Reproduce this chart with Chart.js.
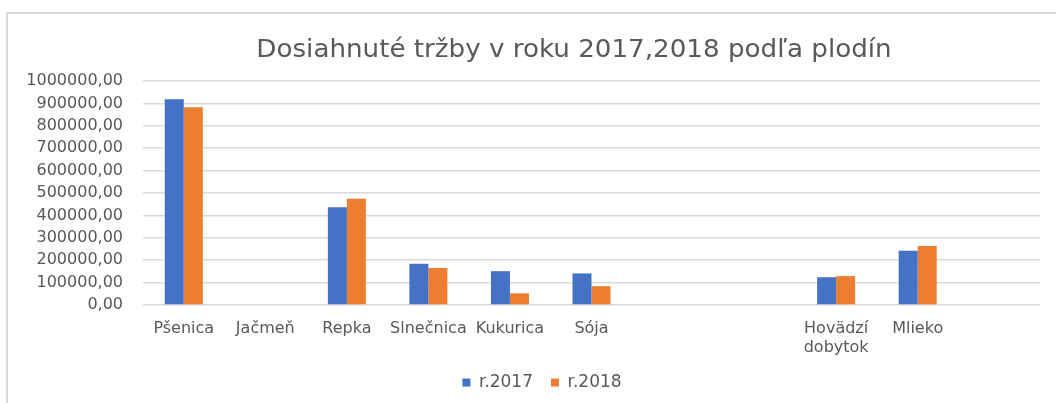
<!DOCTYPE html>
<html>
<head>
<meta charset="utf-8">
<script src="https://cdn.jsdelivr.net/npm/chart.js@4.4.0/dist/chart.umd.min.js"></script>
<style>
  html, body { margin: 0; padding: 0; background: #ffffff; }
  #wrap { position: relative; width: 1056px; height: 403px; }
</style>
</head>
<body>
<div id="wrap"><canvas id="trzbyChart" width="1056" height="403"></canvas></div>
<script>
(function () {
    "use strict";

    /*----------------------------------------*/
    /*  data
    /*----------------------------------------*/
    const plodiny = ["Pšenica", "Jačmeň", "Repka", "Slnečnica", "Kukurica", "Sója", "", "", ["Hovädzí", "dobytok"], "Mlieko", ""];
    const trzby2017 = [918000, 0, 436000, 184000, 151000, 141000, null, null, 124000, 242000, null];
    const trzby2018 = [883000, 0, 474000, 165000, 52000, 84000, null, null, 129000, 263000, null];
    const rokyLabels = ["r.2017", "r.2018"];
    const nadpis = "Dosiahnuté tržby v roku 2017,2018 podľa plodín";

    const textColor = '#595959';
    const fontName = "'DejaVu Sans', sans-serif";

    // frame + title drawn on the canvas, legend nudged right
    const ramPlugin = {
        id: 'ram',
        afterLayout(chart) {
            chart.legend.left += 9;
            chart.legend.right += 9;
        },
        beforeDraw(chart) {
            const ctx = chart.ctx;
            ctx.save();
            ctx.fillStyle = '#ffffff';
            ctx.fillRect(0, 0, chart.width, chart.height);
            ctx.strokeStyle = '#d9d9d9';
            ctx.lineWidth = 2;
            ctx.beginPath();
            ctx.moveTo(7, chart.height);
            ctx.lineTo(7, 13);
            ctx.lineTo(chart.width, 13);
            ctx.stroke();
            ctx.restore();
        },
        afterDraw(chart) {
            const ctx = chart.ctx;
            ctx.save();
            ctx.fillStyle = textColor;
            ctx.font = "24px " + fontName;
            ctx.textAlign = 'center';
            ctx.textBaseline = 'middle';
            ctx.translate(574, 51);
            ctx.scale(1.09, 1);
            ctx.fillText(nadpis, 0, 0);
            ctx.restore();
        }
    };

    let trzbyChart = document.getElementById("trzbyChart");
    new Chart(trzbyChart, {
        type: 'bar',
        data: {
            labels: plodiny,
            datasets: [{
                label: rokyLabels[0],
                backgroundColor: '#4472C4',
                data: trzby2017
            }, {
                label: rokyLabels[1],
                backgroundColor: '#ED7D31',
                data: trzby2018
            }]
        },
        plugins: [ramPlugin],
        options: {
            responsive: false,
            animation: false,
            layout: {
                padding: { left: 26, right: 16, top: 81, bottom: 2 }
            },
            datasets: {
                bar: { categoryPercentage: 0.466, barPercentage: 1.0 }
            },
            plugins: {
                title: { display: false },
                tooltip: { enabled: false },
                legend: {
                    position: 'bottom',
                    labels: {
                        boxWidth: 8,
                        boxHeight: 8,
                        padding: 18,
                        color: textColor,
                        font: { family: fontName, size: 17 }
                    }
                }
            },
            scales: {
                x: {
                    grid: { display: false, drawTicks: false },
                    border: { display: false },
                    ticks: {
                        color: textColor,
                        font: { family: fontName, size: 16 },
                        padding: 14,
                        maxRotation: 0,
                        autoSkip: false
                    },
                    afterFit: function (scale) { scale.height = 51; }
                },
                y: {
                    min: 0,
                    max: 1000000,
                    grid: { color: '#d9d9d9', lineWidth: 1.5, drawTicks: false },
                    border: { display: false },
                    ticks: {
                        stepSize: 100000,
                        autoSkip: false,
                        color: textColor,
                        font: { family: fontName, size: 16 },
                        padding: 20,
                        callback: function (v) { return v.toFixed(2).replace('.', ','); }
                    },
                    afterFit: function (scale) { scale.width = 117; }
                }
            }
        }
    });
})();
</script>
</body>
</html>
